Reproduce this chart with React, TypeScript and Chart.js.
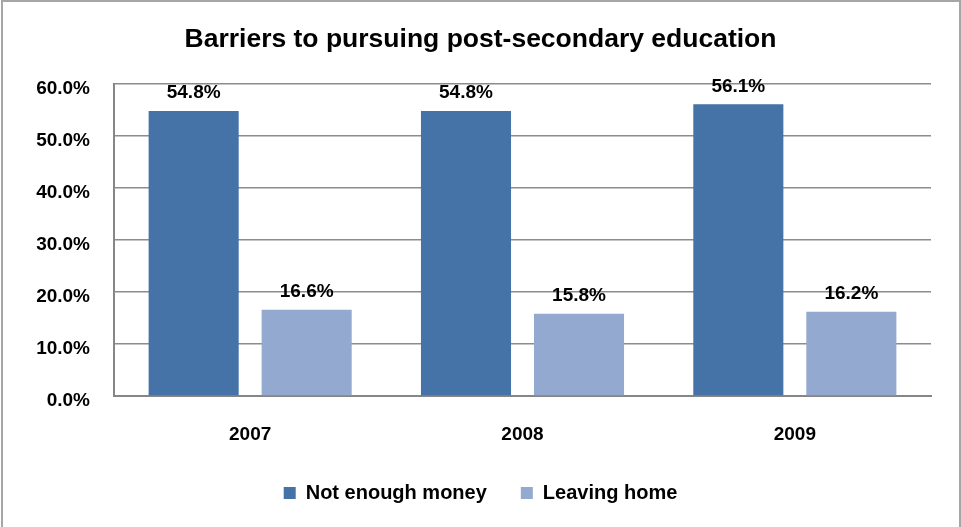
import React, { useEffect, useRef } from "react";
import { Chart, registerables } from "chart.js";

Chart.register(...registerables);

const categories = ["2007", "2008", "2009"];
const seriesNames = ["Not enough money", "Leaving home"];
const notEnoughMoney = [54.8, 54.8, 56.1];
const leavingHome = [16.6, 15.8, 16.2];
const titleText = "Barriers to pursuing post-secondary education";

const FONT = "'Liberation Sans', Arial, sans-serif";

const outerBorder = {
  id: "outerBorder",
  beforeDraw(chart: any) {
    const ctx = chart.ctx;
    ctx.save();
    ctx.fillStyle = "#ffffff";
    ctx.fillRect(0, 0, chart.width, chart.height);
    ctx.strokeStyle = "#a6a6a6";
    ctx.lineWidth = 2;
    ctx.strokeRect(2, 1, chart.width - 3, chart.height + 10);
    ctx.restore();
  },
};

const dataLabels = {
  id: "dataLabels",
  afterDatasetsDraw(chart: any) {
    const ctx = chart.ctx;
    ctx.save();
    ctx.font = `bold 19px ${FONT}`;
    ctx.fillStyle = "#000000";
    ctx.textAlign = "center";
    ctx.textBaseline = "middle";
    chart.data.datasets.forEach((ds: any, i: number) => {
      const meta = chart.getDatasetMeta(i);
      meta.data.forEach((el: any, j: number) => {
        ctx.fillText(ds.data[j].toFixed(1) + "%", el.x, el.y - 18);
      });
    });
    ctx.restore();
  },
};

export default function App() {
  const ref = useRef<HTMLCanvasElement>(null);
  useEffect(() => {
    document.body.style.margin = "0";
    const chart = new Chart(ref.current!, {
      type: "bar",
      data: {
        labels: categories,
        datasets: [
          {
            label: seriesNames[0],
            data: notEnoughMoney,
            backgroundColor: "#4572a7",
            borderWidth: 0,
          },
          {
            label: seriesNames[1],
            data: leavingHome,
            backgroundColor: "#94a9cf",
            borderWidth: 0,
          },
        ],
      },
      options: {
        animation: false,
        responsive: false,
        maintainAspectRatio: false,
        layout: { padding: { left: 0, right: 0, top: 0, bottom: 14 } },
        datasets: { bar: { categoryPercentage: 0.83, barPercentage: 0.797 } },
        scales: {
          x: {
            grid: { display: false, drawTicks: false },
            border: { display: true, color: "#868686", width: 2 },
            ticks: {
              color: "#000000",
              padding: 27,
              font: { family: FONT, size: 19, weight: "bold" },
            },
            afterFit(scale: any) {
              scale.height = 53;
            },
          },
          y: {
            min: 0,
            max: 60,
            grid: { color: "#8c8c8c", lineWidth: 1.5, drawTicks: false },
            border: { display: true, color: "#868686", width: 2 },
            ticks: {
              stepSize: 10,
              color: "#000000",
              padding: 24,
              labelOffset: 5,
              font: { family: FONT, size: 19, weight: "bold" },
              callback: (v: any) => Number(v).toFixed(1) + "%",
            },
            afterFit(scale: any) {
              scale.width = 114;
            },
          },
          yRight: {
            type: "linear",
            position: "right",
            display: true,
            grid: { display: false, drawTicks: false },
            border: { display: false },
            ticks: { display: false },
            afterFit(scale: any) {
              scale.width = 30;
            },
          },
        },
        plugins: {
          title: {
            display: true,
            text: titleText,
            color: "#000000",
            font: { family: FONT, size: 26.5, weight: "bold" },
            padding: { top: 24, bottom: 84 - 24 - 31.8 },
          },
          legend: {
            display: true,
            position: "bottom",
            labels: {
              color: "#000000",
              boxWidth: 12,
              boxHeight: 12,
              padding: 34,
              font: { family: FONT, size: 20, weight: "bold" },
            },
          },
          tooltip: { enabled: false },
        },
      },
      plugins: [outerBorder, dataLabels],
    } as any);
    return () => chart.destroy();
  }, []);
  return <canvas ref={ref} width={961} height={527} style={{ display: "block" }} />;
}
